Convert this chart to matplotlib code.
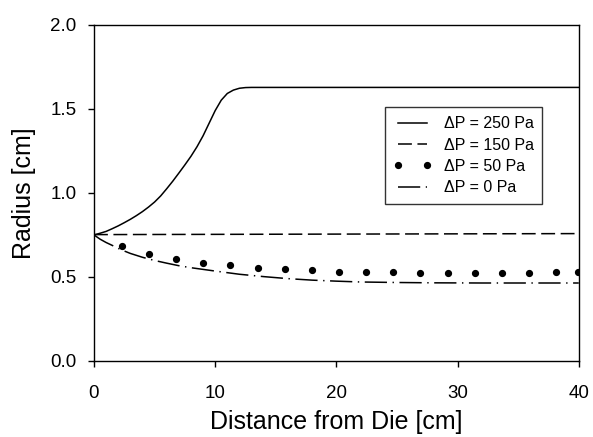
import matplotlib
matplotlib.use("Agg")
import matplotlib.pyplot as plt

plt.rcParams['font.family'] = ['Liberation Sans', 'DejaVu Sans']
plt.rcParams['lines.scale_dashes'] = False

# Data
x250 = [0, 0.5, 1, 1.5, 2, 2.5, 3, 3.5, 4, 4.5, 5, 5.5, 6, 6.5, 7, 7.5, 8, 8.5, 9,
        9.5, 10, 10.5, 11, 11.5, 12, 12.5, 13, 14, 40]
y250 = [0.75, 0.76, 0.771, 0.787, 0.804, 0.823, 0.843, 0.865, 0.889, 0.916, 0.946,
        0.982, 1.025, 1.07, 1.118, 1.167, 1.218, 1.275, 1.34, 1.415, 1.49, 1.552,
        1.592, 1.612, 1.623, 1.627, 1.628, 1.628, 1.628]

x150 = [0, 40]
y150 = [0.752, 0.758]

x50 = [2.3, 4.54, 6.78, 9.02, 11.26, 13.5, 15.74, 17.98, 20.22, 22.46, 24.7,
       26.94, 29.18, 31.42, 33.66, 35.9, 38.14, 39.95]
y50 = [0.683, 0.637, 0.605, 0.583, 0.570, 0.554, 0.546, 0.540, 0.532, 0.530,
       0.528, 0.526, 0.526, 0.526, 0.526, 0.526, 0.527, 0.53]

x0 = [0, 0.5, 1, 1.5, 2.2, 3, 4, 5, 6, 7, 8, 10, 12, 14, 16, 18, 20, 22, 25, 28, 32, 36, 40]
y0 = [0.75, 0.725, 0.705, 0.688, 0.663, 0.64, 0.617, 0.598, 0.582, 0.567, 0.555, 0.535,
      0.516, 0.502, 0.490, 0.481, 0.475, 0.470, 0.467, 0.465, 0.464, 0.464, 0.464]

labels = ["ΔP = 250 Pa", "ΔP = 150 Pa", "ΔP = 50 Pa", "ΔP = 0 Pa"]
xticks = [0, 10, 20, 30, 40]
yticks = [0.0, 0.5, 1.0, 1.5, 2.0]

fig = plt.figure(figsize=(5.93, 4.37), dpi=100)
ax = fig.add_axes([0.1585, 0.174, 0.8175, 0.769])

ax.plot(x250, y250, color='black', lw=1.1, label=labels[0])
ax.plot(x150, y150, color='black', lw=1.1, linestyle=(0, (10, 4)), label=labels[1])
ax.plot(x50, y50, color='black', linestyle='none', marker='o', markersize=4.2, label=labels[2])
ax.plot(x0, y0, color='black', lw=1.1, linestyle=(0, (16, 4, 1, 4)), label=labels[3])

ax.set_xlim(0, 40)
ax.set_ylim(0, 2.0)
ax.set_xticks(xticks)
ax.set_yticks(yticks)
ax.set_xticklabels([str(t) for t in xticks])
ax.set_yticklabels([f"{t:.1f}" for t in yticks])
ax.tick_params(direction='out', length=4, width=1, labelsize=13.5, colors='black')
ax.tick_params(axis='x', pad=13)
ax.tick_params(axis='y', pad=8.5)
for s in ax.spines.values():
    s.set_linewidth(1.0)
    s.set_color('black')

ax.set_xlabel("Distance from Die [cm]", fontsize=18, labelpad=6)
ax.set_ylabel("Radius [cm]", fontsize=18, labelpad=10)

leg = ax.legend(loc='upper left', bbox_to_anchor=(0.583, 0.778), fontsize=11.5,
                numpoints=2, handlelength=2.4, frameon=True, fancybox=False,
                edgecolor='black', borderpad=0.55, labelspacing=0.4, handletextpad=0.75)
leg.get_frame().set_linewidth(1.0)

fig.savefig("out.png", dpi=100)
